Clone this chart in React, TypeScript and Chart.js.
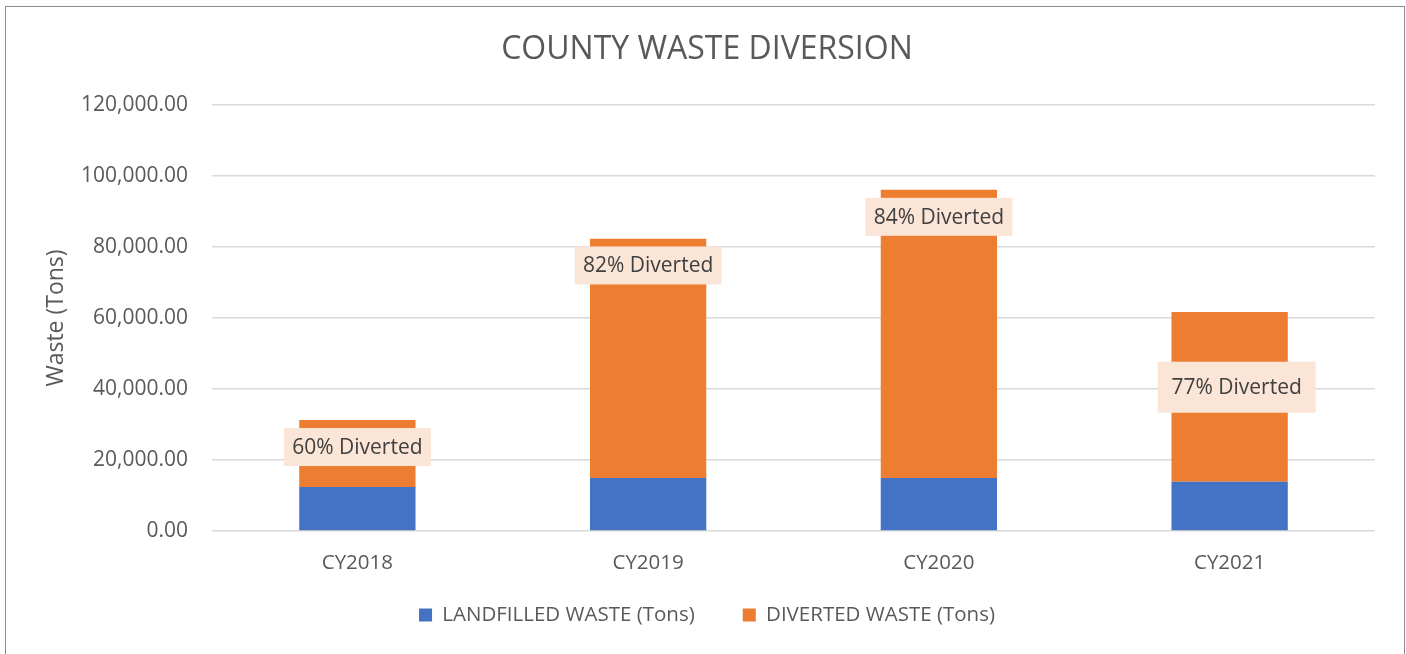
import React, { useEffect, useRef } from "react";
import { Chart, registerables } from "chart.js";

Chart.register(...registerables);

// ---- data ----
const categories = ["CY2018", "CY2019", "CY2020", "CY2021"];
const landfilledTons = [12400, 14900, 14900, 13900];
const divertedTons = [18900, 67400, 81200, 47800];
const divertedLabels = ["60% Diverted", "82% Diverted", "84% Diverted", "77% Diverted"];
const divertedLabelAt = [23650, 74800, 88500, 40500];
const yTickMin = 0;
const yTickMax = 120000;
const yTickStep = 20000;

// ---- styles ----
const FONT = "'Open Sans', 'Noto Sans', sans-serif";
const TEXT = "#595959";
const LABEL_BOXES = [
  { dx: 0, w: 147, h: 38 },
  { dx: 0, w: 147, h: 38 },
  { dx: 0, w: 147, h: 38 },
  { dx: 7, w: 158, h: 51 },
];

const divertedLabelPlugin = {
  id: "divertedLabels",
  afterDatasetsDraw(chart: any) {
    const { ctx, scales } = chart;
    const x = scales.x;
    const y = scales.y;
    ctx.save();
    ctx.font = `21px ${FONT}`;
    ctx.textAlign = "center";
    ctx.textBaseline = "middle";
    divertedLabels.forEach((t, i) => {
      const b = LABEL_BOXES[i];
      const cx = x.getPixelForValue(i) + b.dx;
      const cy = y.getPixelForValue(divertedLabelAt[i]);
      ctx.fillStyle = "#FBE5D6";
      ctx.fillRect(cx - b.w / 2, cy - b.h / 2, b.w, b.h);
      ctx.fillStyle = "#404040";
      ctx.fillText(t, cx, cy + 1);
    });
    ctx.restore();
  },
};

export default function App() {
  const ref = useRef<HTMLCanvasElement | null>(null);

  useEffect(() => {
    document.body.style.margin = "0";
    const canvas = ref.current;
    if (!canvas) return;
    const chart = new Chart(canvas, {
      type: "bar",
      data: {
        labels: categories,
        datasets: [
          {
            label: "LANDFILLED WASTE (Tons)",
            data: landfilledTons,
            backgroundColor: "#4472C4",
            borderWidth: 0,
          },
          {
            label: "DIVERTED WASTE (Tons)",
            data: divertedTons,
            backgroundColor: "#ED7D31",
            borderWidth: 0,
          },
        ],
      },
      options: {
        responsive: false,
        animation: false,
        datasets: { bar: { barPercentage: 0.4, categoryPercentage: 1.0 } },
        layout: { padding: { left: 8, right: 0, top: 0, bottom: 18.75 } },
        plugins: {
          title: {
            display: true,
            text: "COUNTY WASTE DIVERSION",
            color: TEXT,
            font: { family: FONT, size: 32, weight: "normal" },
            padding: { top: 31, bottom: 35.6 },
          },
          legend: {
            position: "bottom",
            labels: {
              boxWidth: 13,
              boxHeight: 13,
              padding: 48,
              color: TEXT,
              font: { family: FONT, size: 20.5 },
            },
          },
          tooltip: { enabled: false },
        },
        scales: {
          x: {
            stacked: true,
            grid: { display: false },
            border: { display: false },
            ticks: {
              color: TEXT,
              font: { family: FONT, size: 20.5 },
              mirror: true,
              padding: -44.3,
            },
            afterFit: (s: any) => {
              s.height = 25.75;
            },
          },
          y: {
            stacked: true,
            min: yTickMin,
            max: yTickMax,
            ticks: {
              stepSize: yTickStep,
              padding: 24,
              color: TEXT,
              font: { family: FONT, size: 21 },
              callback: (v: any) =>
                Number(v).toLocaleString("en-US", {
                  minimumFractionDigits: 2,
                  maximumFractionDigits: 2,
                }),
            },
            grid: { color: "#D9D9D9", lineWidth: 1.5, drawTicks: false },
            border: { display: false },
            title: {
              display: true,
              text: "Waste (Tons)",
              color: TEXT,
              font: { family: FONT, size: 23 },
              padding: { top: 35, bottom: 0 },
            },
            afterFit: (s: any) => {
              s.width = 204;
            },
          },
          y2: {
            position: "right",
            display: true,
            grid: { display: false },
            ticks: { display: false },
            border: { display: false },
            afterFit: (s: any) => {
              s.width = 31;
            },
          },
        },
      } as any,
      plugins: [divertedLabelPlugin],
    });
    return () => chart.destroy();
  }, []);

  return (
    <div
      style={{
        position: "relative",
        width: 1406,
        height: 654,
        overflow: "hidden",
        background: "#ffffff",
      }}
    >
      <canvas ref={ref} width={1406} height={654} style={{ display: "block" }} />
      <div
        style={{
          position: "absolute",
          left: 5,
          top: 6,
          width: 1398,
          height: 700,
          border: "1px solid #8C8C8C",
          pointerEvents: "none",
        }}
      />
    </div>
  );
}
